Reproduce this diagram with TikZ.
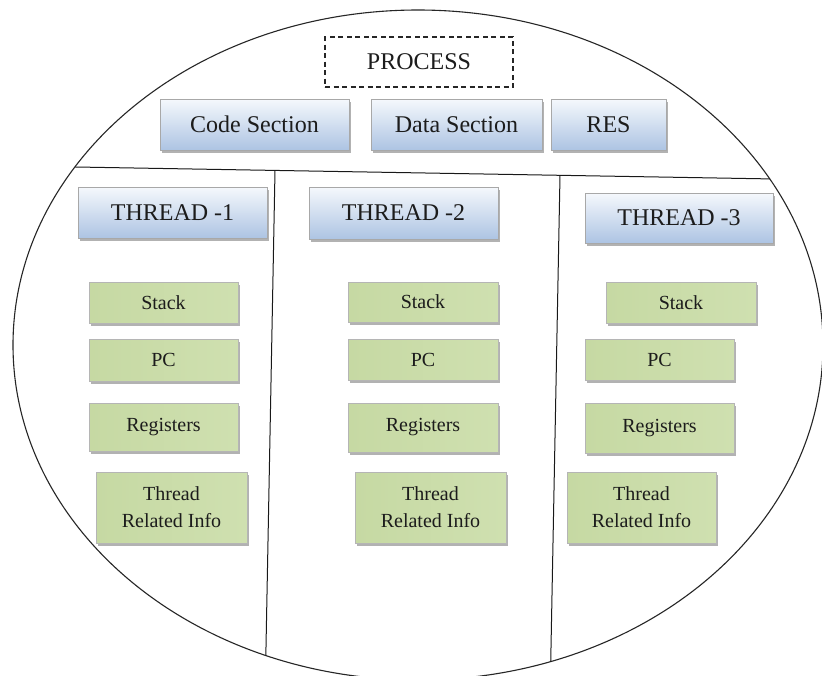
\documentclass[tikz,border=0pt]{standalone}
\usepackage{fontspec}
\setmainfont{Liberation Serif}
\usetikzlibrary{shadows}
\definecolor{bluetop}{HTML}{F5F8FC}
\definecolor{bluebot}{HTML}{ADC4E3}
\definecolor{boxedge}{HTML}{A8A8A8}
\definecolor{gleft}{HTML}{C6D9A3}
\definecolor{gmid}{HTML}{F2F7EA}
\definecolor{gright}{HTML}{CFE0B0}
\definecolor{inkcol}{HTML}{1C1C1C}
\newcommand{\mybox}[7]{%
  \node[#2, minimum width={(#5-#3)*1pt}, minimum height={(#6-#4)*1pt}]
    (#1) at ({(#3+#5)/2},{(#4+#6)/2}) {#7};}
\begin{document}
\begin{tikzpicture}[x=1pt,y=-1pt,
  boxshadow/.style={drop shadow={shadow xshift=1.5pt, shadow yshift=-2.5pt, fill=black!55, opacity=0.55}},
  bluebox/.style={draw=boxedge, line width=0.8pt, top color=bluetop, bottom color=bluebot,
    boxshadow, font=\fontsize{24}{28}\selectfont, text=inkcol, inner sep=0pt},
  greenbox/.style={draw=boxedge!85, line width=0.6pt, left color=gleft, middle color=gmid,
    right color=gright, boxshadow, font=\fontsize{20}{27}\selectfont, text=inkcol,
    align=center, inner sep=0pt},
  dashbox/.style={draw=black!85, line width=1.4pt, dash pattern=on 5pt off 3.5pt,
    font=\fontsize{24}{28}\selectfont, text=inkcol, inner sep=0pt},
  rimline/.style={draw=black!85, line width=1.1pt},
  sepline/.style={draw=black!90, line width=1pt}]
\fill[white] (0,0) rectangle (822,675);
\useasboundingbox (0,0) rectangle (822,675);
\clip (0,0) rectangle (822,675);
% outer process oval
\coordinate (oc) at (418,345);
\draw[rimline] (oc) ellipse [x radius=405, y radius=335];
% separating lines
\coordinate (hL) at (0,165.7);
\coordinate (hR) at (822,179.8);
\coordinate (v1t) at (275,170.4);
\coordinate (v1b) at (265,700);
\coordinate (v2t) at (560,175.3);
\coordinate (v2b) at (550,700);
\begin{scope}
  \clip (oc) ellipse [x radius=405, y radius=335];
  \draw[sepline] (hL) -- (hR);
  \draw[sepline] (v1t) -- (v1b);
  \draw[sepline] (v2t) -- (v2b);
\end{scope}
% process header
\mybox{proc}{dashbox}{325}{37}{513}{87}{PROCESS}
\mybox{code}{bluebox}{160}{99}{349}{150}{Code Section}
\mybox{data}{bluebox}{371}{99}{542}{150}{Data Section}
\mybox{res}{bluebox}{551}{99}{666}{150}{RES}
% threads
\mybox{t1}{bluebox}{78}{187}{267}{238}{THREAD -1}
\mybox{t2}{bluebox}{309}{187}{498}{239}{THREAD -2}
\mybox{t3}{bluebox}{585}{193}{773}{243}{THREAD -3}
% column 1
\mybox{s1}{greenbox}{89}{282}{238}{323}{Stack}
\mybox{p1}{greenbox}{89}{339}{238}{381}{PC}
\mybox{r1}{greenbox}{89}{403}{238}{451}{Registers}
\mybox{i1}{greenbox}{96}{472}{247}{543}{Thread\\Related Info}
% column 2
\mybox{s2}{greenbox}{348}{282}{498}{322}{Stack}
\mybox{p2}{greenbox}{348}{339}{498}{380}{PC}
\mybox{r2}{greenbox}{348}{403}{498}{452}{Registers}
\mybox{i2}{greenbox}{355}{472}{506}{543}{Thread\\Related Info}
% column 3
\mybox{s3}{greenbox}{606}{282}{756}{323}{Stack}
\mybox{p3}{greenbox}{585}{339}{734}{380}{PC}
\mybox{r3}{greenbox}{585}{403}{734}{453}{Registers}
\mybox{i3}{greenbox}{567}{472}{716}{543}{Thread\\Related Info}
\end{tikzpicture}
\end{document}
